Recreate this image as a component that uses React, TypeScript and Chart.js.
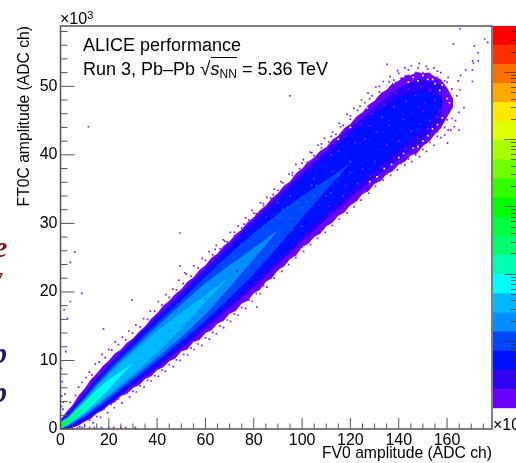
import React, { useEffect, useRef } from "react";
import { Chart, registerables } from "chart.js";

Chart.register(...registerables);

const FONT = "'Liberation Sans', Arial, sans-serif";
const X_MAX = 178.6;
const Y_MAX = 58.8;

const xTicks = [0,5,10,15,20,25,30,35,40,45,50,55,60,65,70,75,80,85,90,95,100,105,110,115,120,125,130,135,140,145,150,155,160,165,170,175];
const yTicks = [0,2,4,6,8,10,12,14,16,18,20,22,24,26,28,30,32,34,36,38,40,42,44,46,48,50,52,54,56,58];

// Outer limits of the filled band
const edgeX = [0,2.5,5,7.5,10,12.5,15,17.5,20,22.5,25,27.5,30,32.5,35,37.5,40,42.5,45,47.5,50,52.5,55,57.5,60,62.5,65,67.5,70,72.5,75,77.5,80,82.5,85,87.5,90,92.5,95,97.5,100,102.5,105,107.5,110,112.5,115,117.5,120,122.5,125,127.5,130,132.5,135,137.5,140,142.5,145,147.5,150,152.5,155,157.5,160,162.5];
const edgeUpper = [1.3,2.5,3.5,4.9,5.9,7.2,8.1,9.2,10,11,11.6,12.6,13.2,14.2,15,16.1,16.9,18,18.7,19.7,20.4,21.5,22.1,23.2,23.9,25,25.6,26.7,27.4,28.4,29.1,30.2,30.9,31.9,32.6,33.7,34.4,35.5,36.1,37.3,38,39,39.6,40.6,41.1,42.2,42.8,43.9,44.5,45.6,46.2,47.3,47.9,49,49.5,50.5,50.8,51.6,51.6,52.1,51.9,52,51.4,51,49.8,48.2];
const edgeLower = [0,0,0.2,0.5,1.1,1.5,2.3,2.7,3.5,3.9,4.8,5.1,6,6.4,7.3,7.7,8.6,9,9.9,10.3,11.3,11.6,12.7,13,14,14.4,15.4,15.8,16.8,17.2,18.3,18.7,19.8,20.3,21.5,22,23.2,23.7,24.8,25.3,26.6,27,28,28.5,29.6,30.1,31.1,31.6,32.7,33.2,34.3,34.7,35.8,36.2,37.2,37.6,38.6,39,39.9,40.2,41.3,41.9,43,43.9,45.5,47];

// Density contours, as half widths around the ridge of the band
const bandX = [0,3,6,10,15,20,25,30,40,50,60,70,80,90,100,110,120,130,140,150,158];
const bandCenter = [0.5,1.1,2,3.2,4.9,6.5,8.1,9.6,12.7,15.8,19,22.3,25.6,29,32.4,35.6,38.8,41.8,44.6,46.6,47.6];
const width2 = [0.9,1.15,1.55,2.1,2.6,2.9,3.1,3.3,3.8,4.1,4.4,4.7,4.9,5,5,5,5.1,5.2,5.2,4.6,2.6];
const width3 = [0.8,0.95,1.3,1.8,2.25,2.55,2.75,2.9,3.3,3.6,3.8,4,4.2,4.3,4.3,4.2,4.2,4.1,3.8,2.9,0.6];
const width4 = [0.7,0.8,1.1,1.5,1.9,2.2,2.35,2.5,2.8,3,3.2,3.2,3,2.4,1.6,0.7,0];
const width5 = [0.6,0.65,0.9,1.2,1.55,1.8,1.95,2.05,2.3,2.4,2.3,1.6,0.8,0];
const width6 = [0.5,0.5,0.75,1,1.25,1.45,1.55,1.6,1.6,1.2,0.5,0];
const width7 = [0.4,0.4,0.6,0.75,0.85,0.7,0.3,0];
const width8 = [0.35,0.3,0.4,0.45,0.2,0];
const width9 = [0.3,0.25,0.25,0];
const width10 = [0.25,0.12,0];
const levelWidths = [width10,width9,width8,width7,width6,width5,width4,width3,width2];
const levelColors = ["#00ff10","#00ff60","#00ffb0","#00ffff","#00b8ff","#0090ff","#0048ff","#0010ff","#2a00f8"];

const outliers: [number,number][] = [
[11.6,44.1],[5.9,25.8],[4.1,24.3],[8.9,19.8],[4.1,18.6],[29.6,18.8],[1.5,17.4],[2.9,16.1],[17.8,14.6],[2.2,11.3],[0.4,8.8],[0.7,6.9],[1.8,5.1],[1.1,3.9],
[165.4,58.4],[162.6,56.2],[171.3,55.9],[175.6,56.9],[176.8,56.4],[172.8,54.9],[170.6,53.7],[170.9,53.4],[172.9,53.7],[170.5,52.4],[170.5,50.7],[167.7,52.4],[165.6,51.6],[164.6,50.8],[165.3,49.5],[167,46.9],[164.9,46.2],[164.9,43.6],[163,44.1],[161.6,43.6],[159.1,42.9],[160.2,41.7],
[135.2,53.2],[94.9,48.6],[81.3,17.8],[49.4,28.6],[49.4,23.8],[51.4,22.8],
[7,0.2],[9,0.2],[12,0.2],[14,0.2],[17,0.2],[20,0.2],[22,0.2],[25,0.2],[27,0.2],[31,0.2],[0.5,4.8],[1,2.9],[0.4,3.3]
];
const upperSpecks: [number,number][] = [
[4,3.9],[6.2,4.9],[7.5,6.1],[9,6.8],[10.6,7.5],[12,8.3],[13,7.9],[14.4,9.5],[16,9.8],[17.2,10.9],[18.5,10.4],[20,11.6],[21.2,11.5],[22.7,12.7],[24,12.3],[25.6,13.4],[27,13],[28.3,14.3],[29.8,14],[31.2,15.2],[33,14.9],[34.4,16.1],[36,16],[37.2,17.2],[39,17.2],[40.5,18.6],[42,18.1],[43.6,19.6],[45,19.2],[46.5,20.4],[48,20.3],[49,21.7],[50.8,21.2],[52.1,22.6],[54,22.3],[55.2,23.8],[57,23.5],[58.6,24.9],[60,24.6],[61.5,25.9],[63,25.4],[64.5,26.8],[66,26.3],[67.4,27.6],[69,27.3],[70.3,28.7],[72,28.2],[73.5,29.6],[75,29.3],[76.6,30.8],[78,30.5],[79.3,31.9],[81,31.4],[82.8,33],[84,32.6],[85.4,33.8],[87,33.7],[88.5,35],[90,34.8],[91.3,36.1],[93,35.5],[94.6,37.2],[96,37],[97.4,38.6],[99,38],[100.5,39.3],[102,38.9],[103.4,40.4],[105,39.9],[106.6,41.4],[108,41],[109.3,42.4],[111,41.9],[112.6,43.3],[114,43],[115.4,44.6],[117,44.3],[118.6,45.9],[120,45.2],[121.4,46.8],[123,46.5],[124.6,48],[126,47.6],[127.3,49],[129,48.6],[130.5,49.9],[132,49.2],[133.6,50.7],[135,50],[136.4,51.4],[138,50.9],[139.5,52.3],[141,51.2],[142.5,52.7],[144,51.6],[145.2,53],[147,52],[148.5,53.3],[150,52],[151.4,52.9],[153,51.8],[154.6,52.7],[156,51.3],[157.4,52],[159,50.8],[160.5,51.3],
[64,26.2],[68,27.4],[72,28.7],[76,29.9],[80,31.5],[84,32.9],[88,34.2],[92,35.9],[96,37.4],[100,38.8],[104,40.3],[108,41.6],[112,42.7],[116,44.1],[120,45.7],[124,47.1],[128,48.2],[132,50],[136,50.6],[140,51.9],[144,52.4],[148,52.7],[152,52.5],[156,52.2],[160,50.6],[162,49.6],[164,48.6]
];
const lowerSpecks: [number,number][] = [
[8,0.3],[10,0.5],[12,1.3],[13.5,0.9],[15,1.8],[16.6,1.7],[18,2.9],[19.5,2.4],[21,3.6],[22.3,3.1],[24,4.4],[25.5,3.8],[27,5.2],[28.6,4.7],[30,5.5],[31.4,5.4],[33,6.3],[34.6,6.1],[36,7.1],[37.5,7],[39,7.8],[40.5,7.7],[42,8.6],[43.4,8.4],[45,9.4],[46.7,9.1],[48,10.1],[49.5,10],[51,10.9],[52.6,10.8],[54,11.8],[55.3,11.6],[57,12.4],[58.5,12.2],[60,13.3],[61.6,13.1],[63,14.1],[64.5,13.9],[66,15],[67.5,14.8],[69,15.9],[70.4,15.7],[72,16.8],[73.5,16.6],[75,17.7],[76.6,17.6],[78,18.8],[79.4,18.6],[81,19.8],[82.7,19.7],[84,20.9],[85.4,20.7],[87,22],[88.5,22],[90,23.2],[91.6,23],[93,24.2],[94.5,24],[96,25.2],[97.4,25],[99,26.2],[100.6,25.9],[102,27.1],[103.5,26.9],[105,28.1],[106.4,27.8],[108,29],[109.6,28.7],[111,29.9],[112.5,29.7],[114,30.9],[115.4,30.6],[117,31.7],[118.6,31.5],[120,32.7],[121.5,32.4],[123,33.7],[124.4,33.4],[126,34.7],[127.6,34.4],[129,35.6],[130.4,35.4],[132,36.5],[133.5,36.3],[135,37.2],[136.6,37],[138,38],[139.4,37.8],[141,38.7],[142.5,38.5],[144,39.4],[145.4,39],[147,40],[148.6,39.7],[150,40.8],[151.5,40.5],[153,41.8],[154.6,41.4],[156,42.7],[157.4,42.5],[159,44],[160.5,43.6],[162,45.3],[163.5,45],
[100,26.5],[104,27.8],[108,29.5],[112,30.5],[116,31.9],[120,33.2],[124,34.5],[128,35.8],[132,37],[136,37.9],[140,39],[144,39.9],[148,40.8],[152,42],[156,43.4],[160,45.1]
];
const violetSpecks: [number,number][] = [
[105,36.5],[110,34],[115,40.5],[118,35.5],[122,41.8],[125,38],[128,44.2],[130,39],[133,45.5],[135,41.5],[138,47],[140,42],[143,47.8],[145,43.5],[147,48.7],[149,44.5],[151,47.6],[153,45],[155,48],[157,46.5],[113,37.6],[120,37.4],[126,42.3],[131,43.3],[136,44.3],[142,45.2],[146,46.2],[150,46.4],[90,33],[95,34],[85,31],[75,27],[65,24],[60,16.2],[70,19.4],[80,22.7],[90,26.8],[100,29.6],[112,40],[118,42.7],[124,44.5],[129,46],[134,47.4],[139,49],[144,49.6],[149,50],[153,49.4],[157,48.9],[111,32.5],[117,34],[123,35.8],[128,36.9],[133,38.3],[138,39.6],[143,40.9],[148,42.4],[152,43.8],[156,45.5]
];
const whiteSpecks: [number,number][] = [
[125,46.4],[130,48.2],[135,50],[138,50.5],[142,51.4],[146,51.3],[150,51.6],[152,51],[155,50.4],[158,50.2],[128,36.1],[134,38],[140,39.6],[146,41],[152,42.8],[156,44.4],[120,44],[115,42.3],[160,48.2],[148,41.2],[144,50.6],[148,50.8],[154,51],[157,49.4],[161,47.6],[142,40.2],[137,38.6],[131,36.8],[150,42],[154,43.8],[158,45.4],[132,48.9],[127,46.8]
];
const midSpecks: [number,number][] = [
[100,33.4],[104,35.4],[108,34.8],[112,37.6],[115,36],[118,40],[121,37.5],[124,41.6],[127,39.2],[130,43.4],[133,40.8],[136,44.9],[139,42.9],[142,46],[145,44.4],[148,47],[151,45.4],[106,37.2],[110,37.9],[116,39],[122,40.2],[128,42.1],[134,43.4],[140,45.3],[146,46.2],[102,30.8],[107,32.7],[113,35],[119,36.9],[125,38.8],[131,40.7],[137,42.1],[143,43.6],[92,30.8],[87,29.7],[84,24.5],[79,23.7],[73,23],[82,27.5],[94,28.9],[98,31.4]
];
const lightSpecks: [number,number][] = [
[60,19],[65,21],[70,22],[75,24.5],[80,25.3],[85,27.6],[90,29],[95,30.7],[100,32.3],[105,34],[110,36],[115,37],[120,39],[42,15.1],[45,14.3],[48,17.2],[52,15.5],[55,19.4],[58,17.1],[62,21.6],[66,19.2],[72,25],[78,23.2],[84,29.4],[88,26.7],[92,32],[96,29],[104,35.6],[112,34.5],[68,23.6],[74,22.6],[82,24.4],[86,29],[90,30.8],[94,32.3],[98,33],[102,33.1],[106,35.5]
];
const cyanSpecks: [number,number][] = [
[24,8.4],[26,8],[28,9.4],[30,9.4],[32,10.4],[34,10.2],[36,11.6],[38,12],[40,12.8],[43,13.6],[46,14.8],[49,15.6],[52,16.5],[55,17.4],[58,18.6],[62,19.8]
];

// Colour bar, bottom to top
const paletteEdges = [1,1.923,3.698,7.11,13.68,26.3,50.6,97.3,187,360,692,1331,2559,4920,9462,18200,35000,67300,129400,248900,478600];
const paletteColors = ["#6a00ff","#3000f0","#0010ff","#0048ff","#0090ff","#00b8ff","#00ffff","#00ffb0","#00ff70","#00ff40","#00ff00","#30ff00","#70ff00","#a8ff00","#e0ff00","#ffe800","#ffa800","#ff7000","#ff3000","#ff0000"];
const paletteDecades = [10,100,1000,10000,100000];
const paletteMinors = [2,3,4,5,6,7,8,9,20,30,40,50,60,70,80,90,200,300,400,500,600,700,800,900,2000,3000,4000,5000,6000,7000,8000,9000,20000,30000,40000,50000,60000,70000,80000,90000,200000,300000,400000];

const AXIS = "#555";
const toXY = (p: [number,number][]) => p.map(([x,y]) => ({x,y}));

const frameAndTicks = {
  id: "frameAndTicks",
  afterDatasetsDraw(chart: any) {
    const { ctx, chartArea: a, scales } = chart;
    ctx.save();
    ctx.strokeStyle = AXIS;
    ctx.lineWidth = 1;
    ctx.beginPath();
    xTicks.forEach((v) => {
      const p = scales.x.getPixelForValue(v);
      ctx.moveTo(p, a.bottom);
      ctx.lineTo(p, a.bottom - (v % 20 === 0 ? 11 : 5.5));
    });
    yTicks.forEach((v) => {
      const p = scales.y.getPixelForValue(v);
      ctx.moveTo(a.left, p);
      ctx.lineTo(a.left + (v % 10 === 0 ? 14 : 7), p);
    });
    ctx.stroke();
    ctx.lineWidth = 1.5;
    ctx.strokeRect(a.left, a.top, a.right - a.left, a.bottom - a.top);
    ctx.restore();
  },
};

const paletteTicks = {
  id: "paletteTicks",
  afterDatasetsDraw(chart: any) {
    const { ctx, chartArea: a, scales } = chart;
    ctx.save();
    ctx.strokeStyle = "rgba(40,40,40,0.65)";
    ctx.lineWidth = 1;
    ctx.beginPath();
    paletteDecades.forEach((v) => {
      const p = Math.round(scales.y.getPixelForValue(v)) + 0.5;
      ctx.moveTo(a.right, p);
      ctx.lineTo(a.right - 12, p);
    });
    paletteMinors.forEach((v) => {
      const p = Math.round(scales.y.getPixelForValue(v)) + 0.5;
      ctx.moveTo(a.right, p);
      ctx.lineTo(a.right - 5, p);
    });
    ctx.stroke();
    ctx.restore();
  },
};

const label: React.CSSProperties = { position: "absolute", fontFamily: FONT, color: "#000", whiteSpace: "nowrap", lineHeight: 1 };
const slide: React.CSSProperties = { position: "absolute", fontFamily: "'Liberation Serif', serif", fontStyle: "italic", fontWeight: "bold", lineHeight: 1 };

export default function App() {
  const mainRef = useRef<HTMLCanvasElement>(null);
  const barRef = useRef<HTMLCanvasElement>(null);

  useEffect(() => {
    const datasets: any[] = [];
    const specks = (data: [number,number][], color: string, order: number) => ({
      data: toXY(data), showLine: false, pointStyle: "rect", pointRadius: 1.2, pointBorderWidth: 0,
      pointBackgroundColor: color, order,
    });
    datasets.push(specks(cyanSpecks, "#00c8ff", 0));
    datasets.push(specks(lightSpecks, "#0078ff", 0));
    datasets.push(specks(midSpecks, "#0030ff", 0));
    datasets.push(specks(whiteSpecks, "#ffffff", 0));
    datasets.push(specks(violetSpecks, "#7a20ff", 0));
    datasets.push(specks(upperSpecks, "#7a20ff", 0));
    datasets.push(specks(lowerSpecks, "#7a20ff", 0));
    datasets.push(specks(outliers, "#7a20ff", 0));

    const pair = (up: {x:number,y:number}[], lo: {x:number,y:number}[], color: string, order: number) => {
      datasets.push({ data: up, borderWidth: 0, pointRadius: 0, backgroundColor: color, fill: "+1", order, tension: 0 });
      datasets.push({ data: lo, borderWidth: 0, pointRadius: 0, backgroundColor: color, fill: false, order, tension: 0 });
    };
    levelWidths.forEach((w, i) => {
      const up = w.map((h, k) => ({ x: bandX[k], y: bandCenter[k] + h }));
      const lo = w.map((h, k) => ({ x: bandX[k], y: Math.max(0, bandCenter[k] - h) }));
      pair(up, lo, levelColors[i], i + 1);
    });
    pair(edgeX.map((x, k) => ({ x, y: edgeUpper[k] })), edgeX.map((x, k) => ({ x, y: edgeLower[k] })), "#6a00ff", 20);

    const main = new Chart(mainRef.current!, {
      type: "line",
      data: { datasets },
      plugins: [frameAndTicks],
      options: {
        responsive: false,
        animation: false,
        events: [],
        layout: { padding: { top: 26, right: 24, left: 0, bottom: 0 } },
        plugins: { legend: { display: false }, tooltip: { enabled: false } },
        scales: {
          x: {
            type: "linear", min: 0, max: X_MAX,
            grid: { display: false, drawTicks: false }, border: { display: false },
            afterBuildTicks: (s: any) => { s.ticks = xTicks.map((value) => ({ value })); },
            afterFit: (s: any) => { s.height = 34; },
            ticks: { autoSkip: false, maxRotation: 0, padding: 2, color: "#000", font: { family: FONT, size: 16 },
              callback: (v: any) => (v % 20 === 0 ? String(v) : "") },
            title: { display: true, text: "FV0 amplitude (ADC ch)", align: "end", color: "#000", font: { family: FONT, size: 15.7 }, padding: { top: -3, bottom: 0 } },
          },
          y: {
            type: "linear", min: 0, max: Y_MAX,
            grid: { display: false, drawTicks: false }, border: { display: false },
            afterBuildTicks: (s: any) => { s.ticks = yTicks.map((value) => ({ value })); },
            afterFit: (s: any) => { s.width = 60.5; },
            ticks: { autoSkip: false, padding: 3, color: "#000", font: { family: FONT, size: 16 },
              callback: (v: any) => (v % 10 === 0 ? String(v) : "") },
            title: { display: true, text: "FT0C amplitude (ADC ch)", align: "end", color: "#000", font: { family: FONT, size: 15.7 }, padding: { top: 15, bottom: 0 } },
          },
        },
      } as any,
    });

    const bar = new Chart(barRef.current!, {
      type: "bar",
      data: {
        labels: [""],
        datasets: paletteColors.map((c, i) => ({
          data: [[paletteEdges[i], paletteEdges[i + 1]]] as any,
          backgroundColor: c, borderWidth: 0, barPercentage: 1, categoryPercentage: 1, grouped: false,
        })),
      },
      plugins: [paletteTicks],
      options: {
        responsive: false,
        animation: false,
        events: [],
        layout: { padding: { top: 26, bottom: 54.7, left: 0, right: 0 } },
        plugins: { legend: { display: false }, tooltip: { enabled: false } },
        scales: {
          x: { display: false },
          y: { type: "logarithmic", display: false, min: paletteEdges[0], max: paletteEdges[20] },
        },
      } as any,
    });

    return () => { main.destroy(); bar.destroy(); };
  }, []);

  return (
    <div style={{ position: "absolute", left: 0, top: 0, width: 516, height: 463, overflow: "hidden", background: "#fff", filter: "blur(0.35px)" }}>
      <canvas ref={mainRef} width={516} height={463} style={{ position: "absolute", left: 0, top: 0 }} />
      <canvas ref={barRef} width={23} height={463} style={{ position: "absolute", left: 493, top: 0 }} />

      <span style={{ ...label, left: 60, top: 11, fontSize: 16 }}>×10<sup style={{ fontSize: 11, verticalAlign: 5, lineHeight: 0 }}>3</sup></span>
      <span style={{ ...label, left: 493, top: 417, fontSize: 16 }}>×10</span>
      <span style={{ ...label, left: 83, top: 36, fontSize: 18 }}>ALICE performance</span>
      <span style={{ ...label, left: 83, top: 59, fontSize: 18 }}>
        Run 3, Pb–Pb <span style={{ fontSize: 19 }}>√</span>
        <span style={{ borderTop: "1px solid #000", paddingTop: 1 }}>
          <i>s</i><sub style={{ fontSize: 12, verticalAlign: -3, lineHeight: 0 }}>NN</sub>
        </span>{" "}= 5.36 TeV
      </span>

      <span style={{ ...slide, color: "#7a1518", fontSize: 30, left: -6, top: 232 }}>e</span>
      <span style={{ ...slide, color: "#7a1518", fontSize: 26, fontWeight: "normal", left: -9, top: 264 }}>y</span>
      <span style={{ ...slide, color: "#221a66", fontSize: 30, left: -8, top: 338 }}>p</span>
      <span style={{ ...slide, color: "#221a66", fontSize: 30, left: -8, top: 377 }}>p</span>
    </div>
  );
}
